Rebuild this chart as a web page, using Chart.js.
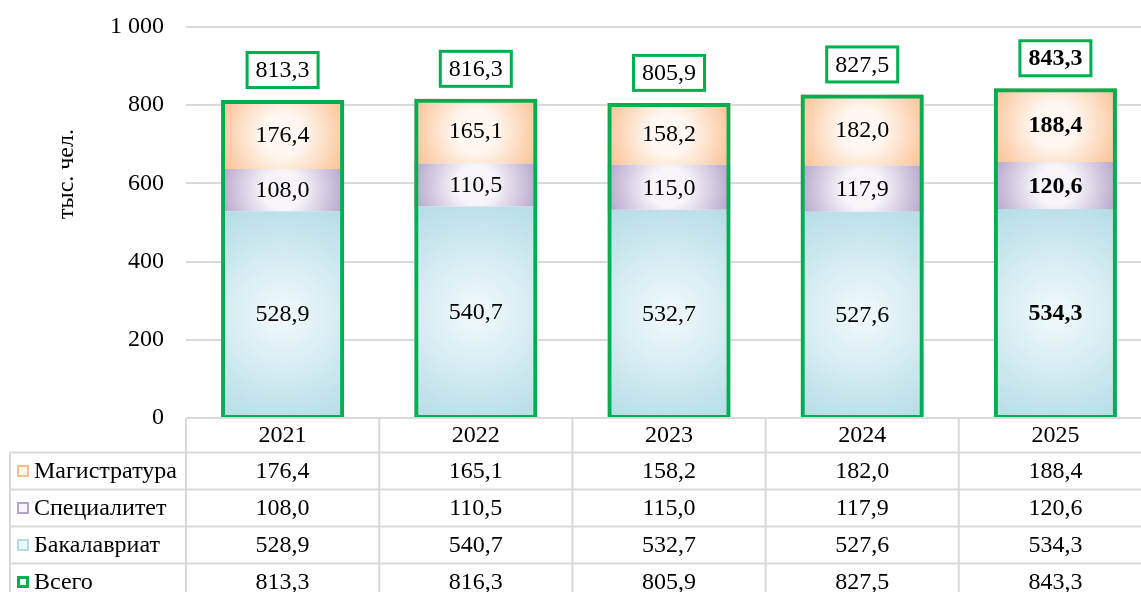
<!DOCTYPE html>
<html>
<head>
<meta charset="utf-8">
<script src="https://cdn.jsdelivr.net/npm/chart.js@4.4.0/dist/chart.umd.min.js"></script>
<style>
html, body { margin: 0; padding: 0; overflow: hidden; background: #fff; }
#wrap { width: 1160px; height: 592px; }
</style>
</head>
<body>
<div id="wrap"><canvas id="myChart" width="1160" height="592"></canvas></div>
<script>
const years = ['2021', '2022', '2023', '2024', '2025'];
const bachelor = [528.9, 540.7, 532.7, 527.6, 534.3];
const specialist = [108.0, 110.5, 115.0, 117.9, 120.6];
const master = [176.4, 165.1, 158.2, 182.0, 188.4];
const total = [813.3, 816.3, 805.9, 827.5, 843.3];
const yTicks = [0, 200, 400, 600, 800, 1000];

const FONT = '"Liberation Serif", "Times New Roman", serif';
const GREEN = '#00b050';
const LINE = '#d9d9d9';
const BAR_PCT = 0.637;

const series = [bachelor, specialist, master];
const edge = ['rgb(180,220,230)', 'rgb(180,163,201)', 'rgb(250,191,143)'];
const mid = ['rgb(236,247,250)', 'rgb(247,244,250)', 'rgb(255,247,240)'];

function fmt(v) {
    return v.toFixed(1).replace('.', ',');
}

// radial gradient for each stacked piece, like the excel fill
function fillFor(k) {
    return function (c) {
        const chart = c.chart;
        if (c.type !== 'data' || !chart.chartArea) return edge[k];
        const x = chart.scales.x;
        const y = chart.scales.y;
        const i = c.dataIndex;
        let base = 0;
        for (let j = 0; j < k; j++) base += series[j][i];
        const y0 = y.getPixelForValue(base);
        const y1 = y.getPixelForValue(base + series[k][i]);
        const cx = x.getPixelForValue(i);
        const cy = (y0 + y1) / 2;
        const hw = x.width / years.length * BAR_PCT / 2;
        const hh = (y0 - y1) / 2;
        const r = Math.sqrt(hw * hw + hh * hh);
        const g = chart.ctx.createRadialGradient(cx, cy, 0, cx, cy, r);
        g.addColorStop(0, mid[k]);
        g.addColorStop(k === 0 ? 0.1 : 0.3, mid[k]);
        g.addColorStop(1, edge[k]);
        return g;
    };
}

const valueLabels = {
    id: 'valueLabels',
    afterDatasetsDraw(chart) {
        const ctx = chart.ctx;
        ctx.save();
        ctx.textAlign = 'center';
        ctx.textBaseline = 'middle';
        for (let d = 0; d < 3; d++) {
            chart.getDatasetMeta(d).data.forEach((bar, i) => {
                ctx.fillStyle = '#000';
                ctx.font = (i === years.length - 1 ? 'bold ' : '') + '24px ' + FONT;
                ctx.fillText(fmt(series[d][i]), bar.x, (bar.y + bar.base) / 2 + 1);
            });
        }
        chart.getDatasetMeta(3).data.forEach((bar, i) => {
            const cy = bar.y - 30;
            const w = 71, h = 35;
            ctx.fillStyle = '#fff';
            ctx.fillRect(bar.x - w / 2, cy - h / 2, w, h);
            ctx.strokeStyle = GREEN;
            ctx.lineWidth = 3;
            ctx.strokeRect(bar.x - w / 2, cy - h / 2, w, h);
            ctx.fillStyle = '#000';
            ctx.font = (i === years.length - 1 ? 'bold ' : '') + '24px ' + FONT;
            ctx.fillText(fmt(total[i]), bar.x, cy + 1);
        });
        ctx.restore();
    }
};

const tableRows = [
    { name: 'Магистратура', values: master, k: 2 },
    { name: 'Специалитет', values: specialist, k: 1 },
    { name: 'Бакалавриат', values: bachelor, k: 0 },
    { name: 'Всего', values: total, k: 3 }
];

const dataTable = {
    id: 'dataTable',
    afterDraw(chart) {
        const ctx = chart.ctx;
        const xs = chart.scales.x;
        const area = chart.chartArea;
        const cw = xs.width / years.length;
        const top = area.bottom;
        const headBottom = top + 34.5;
        const rowH = 37;
        const leftX = 10;
        const rightX = area.right;
        const bottom = chart.height;

        ctx.save();
        ctx.strokeStyle = LINE;
        ctx.lineWidth = 2;
        ctx.beginPath();
        ctx.moveTo(area.left, top);
        ctx.lineTo(rightX, top);
        for (let r = 0; r < tableRows.length; r++) {
            const yy = headBottom + r * rowH;
            ctx.moveTo(leftX, yy);
            ctx.lineTo(rightX, yy);
        }
        for (let i = 0; i <= years.length; i++) {
            const xx = area.left + i * cw;
            ctx.moveTo(xx, top);
            ctx.lineTo(xx, bottom);
        }
        ctx.moveTo(leftX, headBottom);
        ctx.lineTo(leftX, bottom);
        ctx.stroke();

        ctx.fillStyle = '#000';
        ctx.font = '24px ' + FONT;
        ctx.textAlign = 'center';
        ctx.textBaseline = 'middle';
        years.forEach((yr, i) => {
            ctx.fillText(yr, xs.getPixelForValue(i), top + 18);
        });

        tableRows.forEach((row, r) => {
            const cy = headBottom + r * rowH + rowH / 2 + 1;
            // legend key
            const sx = 17, sy = cy - 7, s = 12;
            if (row.k === 3) {
                ctx.fillStyle = '#fff';
                ctx.fillRect(sx, sy, s, s);
                ctx.strokeStyle = GREEN;
                ctx.lineWidth = 3;
                ctx.strokeRect(sx + 1.5, sy + 1.5, s - 3, s - 3);
            } else {
                ctx.fillStyle = mid[row.k];
                ctx.fillRect(sx, sy, s, s);
                ctx.strokeStyle = edge[row.k];
                ctx.lineWidth = 2;
                ctx.strokeRect(sx + 1, sy + 1, s - 2, s - 2);
            }
            ctx.fillStyle = '#000';
            ctx.textAlign = 'left';
            ctx.fillText(row.name, 34, cy);
            ctx.textAlign = 'center';
            row.values.forEach((v, i) => {
                ctx.fillText(fmt(v), xs.getPixelForValue(i), cy);
            });
        });
        ctx.restore();
    }
};

const axisTitle = {
    id: 'axisTitle',
    afterDraw(chart) {
        const ctx = chart.ctx;
        ctx.save();
        ctx.translate(67, 174);
        ctx.rotate(-Math.PI / 2);
        ctx.fillStyle = '#000';
        ctx.font = '24px ' + FONT;
        ctx.textAlign = 'center';
        ctx.textBaseline = 'middle';
        ctx.fillText('тыс. чел.', 0, 0);
        ctx.restore();
    }
};

const ctx = document.getElementById('myChart').getContext('2d');
const myChart = new Chart(ctx, {
    type: 'bar',
    data: {
        labels: years,
        datasets: [
            { label: 'Бакалавриат', data: bachelor, backgroundColor: fillFor(0), stack: 'parts', borderWidth: 0, order: 1 },
            { label: 'Специалитет', data: specialist, backgroundColor: fillFor(1), stack: 'parts', borderWidth: 0, order: 1 },
            { label: 'Магистратура', data: master, backgroundColor: fillFor(2), stack: 'parts', borderWidth: 0, order: 1 },
            {
                label: 'Всего',
                data: total,
                backgroundColor: 'rgba(0,0,0,0)',
                borderColor: GREEN,
                borderWidth: { top: 4, left: 4, right: 4, bottom: 2 },
                borderSkipped: false,
                stack: 'total',
                grouped: false,
                order: 0
            }
        ]
    },
    options: {
        responsive: false,
        animation: false,
        layout: { padding: { top: 27, right: 8, bottom: 174, left: 0 } },
        datasets: { bar: { categoryPercentage: 1, barPercentage: BAR_PCT } },
        plugins: { legend: { display: false }, tooltip: { enabled: false } },
        scales: {
            x: { display: false, stacked: true },
            y: {
                stacked: true,
                min: 0,
                max: 1000,
                border: { display: false },
                grid: { color: LINE, lineWidth: 2, drawTicks: false },
                afterBuildTicks: (s) => { s.ticks = yTicks.map(v => ({ value: v })); },
                afterFit: (s) => {
                    s.width = 186;
                    s.paddingTop = 0;
                    s.paddingBottom = 0;
                },
                ticks: {
                    padding: 22,
                    color: '#000',
                    font: { family: FONT, size: 24 },
                    callback: (v) => String(v).replace(/\B(?=(\d{3})+(?!\d))/g, ' ')
                }
            }
        }
    },
    plugins: [valueLabels, dataTable, axisTitle]
});
</script>
</body>
</html>
